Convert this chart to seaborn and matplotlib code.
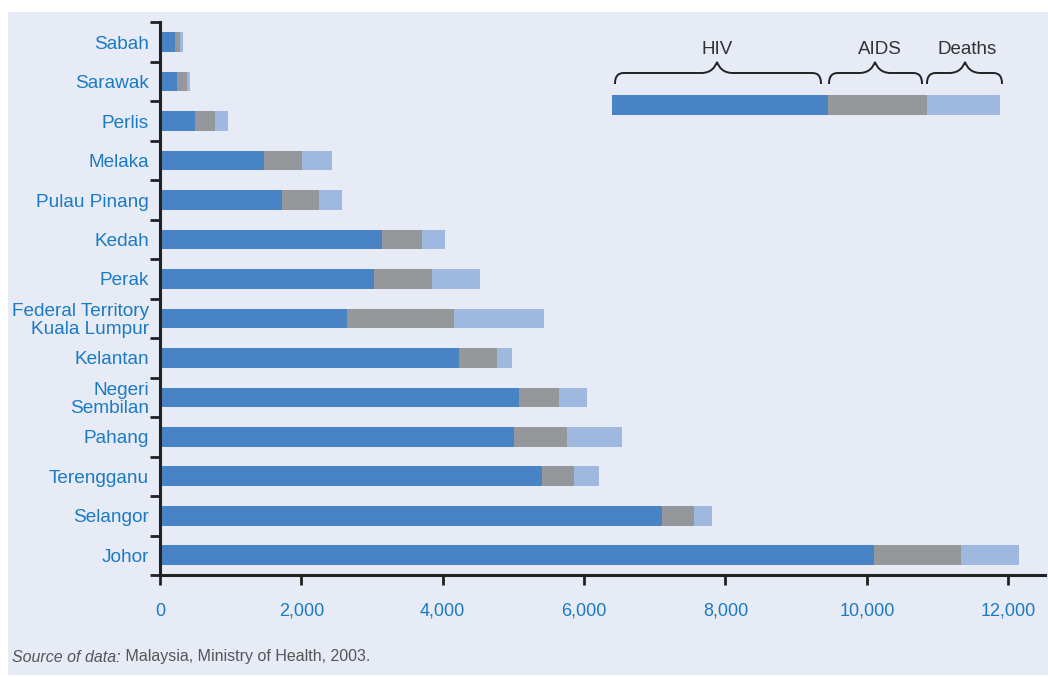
import matplotlib
matplotlib.use("Agg")
import matplotlib.pyplot as plt
import seaborn as sns
import pandas as pd
from matplotlib.path import Path
from matplotlib.patches import PathPatch, Rectangle

# Cumulative HIV infections, AIDS cases and AIDS deaths by state
states = ["Sabah", "Sarawak", "Perlis", "Melaka", "Pulau Pinang", "Kedah", "Perak",
          "Federal Territory\nKuala Lumpur", "Kelantan", "Negeri\nSembilan", "Pahang",
          "Terengganu", "Selangor", "Johor"]
hiv = [210, 240, 495, 1470, 1725, 3140, 3030, 2645, 4230, 5080, 5010, 5405, 7100, 10100]
aids = [70, 140, 285, 540, 525, 565, 820, 1515, 540, 565, 750, 450, 455, 1230]
deaths = [45, 45, 185, 425, 325, 325, 680, 1270, 215, 395, 780, 355, 250, 820]
x_ticks = [0, 2000, 4000, 6000, 8000, 10000, 12000]
series_names = ["HIV", "AIDS", "Deaths"]

C_HIV = "#4884c5"
C_AIDS = "#96979b"
C_DEATH = "#9fb8df"
BG = "#e7ebf6"
LABEL_BLUE = "#1a7bc4"
INK = "#222222"

sns.set_theme(style="white")
plt.rcParams["font.family"] = ["Liberation Sans", "DejaVu Sans"]

W, H = 1048, 677
fig = plt.figure(figsize=(W / 100, H / 100), dpi=100)
fig.patch.set_facecolor("white")


def fx(px):
    return px / W


def fy(py):
    return 1 - py / H


# panel background
fig.add_artist(Rectangle((fx(8), fy(675)), fx(1048) - fx(8), fy(12) - fy(675),
                         transform=fig.transFigure, facecolor=BG, edgecolor="none", zorder=0))

ax = fig.add_axes([fx(160), fy(575), fx(1045) - fx(160), fy(22) - fy(575)])
ax.set_facecolor("none")

df = pd.DataFrame({"state": states, "hiv": hiv, "aids": aids, "deaths": deaths})
df["hiv_aids"] = df["hiv"] + df["aids"]
df["total"] = df["hiv_aids"] + df["deaths"]

# stacked bars: draw cumulative totals back to front
for col, color in [("total", C_DEATH), ("hiv_aids", C_AIDS), ("hiv", C_HIV)]:
    sns.barplot(data=df, x=col, y="state", order=states, orient="h", color=color,
                width=0.5, saturation=1, linewidth=0, ax=ax)

ax.set_xlim(0, 12520)
ax.set_ylim(13.49, -0.51)
ax.set_xlabel("")
ax.set_ylabel("")

for side in ["top", "right"]:
    ax.spines[side].set_visible(False)
for side in ["left", "bottom"]:
    ax.spines[side].set_color(INK)
    ax.spines[side].set_linewidth(2.2)

ax.set_xticks(x_ticks)
ax.set_xticklabels([f"{v:,}" for v in x_ticks])
ax.tick_params(axis="x", direction="out", length=7, width=2, color=INK,
               labelcolor=LABEL_BLUE, labelsize=13, pad=13, bottom=True)

ax.set_yticks(range(len(states)))
ax.set_yticklabels(states, fontsize=13.7, color=LABEL_BLUE, linespacing=1.05)
ax.tick_params(axis="y", which="major", length=0, pad=8, left=True)
ax.set_yticks([i - 0.5 for i in range(len(states) + 1)], minor=True)
ax.tick_params(axis="y", which="minor", direction="out", length=7, width=2,
               color=INK, left=True)

# key bar at upper right
key_edges = [612, 828, 927, 1000]
for (a, b), color in zip(zip(key_edges[:-1], key_edges[1:]), [C_HIV, C_AIDS, C_DEATH]):
    fig.add_artist(Rectangle((fx(a), fy(115)), fx(b) - fx(a), fy(95) - fy(115),
                             transform=fig.transFigure, facecolor=color,
                             edgecolor="none", zorder=3))


def brace(xa, xb, xm, y_tip=84, y_flat=73, y_peak=62, r=9, r2=16):
    pts = [
        (xa, y_tip),
        (xa, y_flat + 3), (xa + r * 0.35, y_flat), (xa + r, y_flat),
        (xm - r2, y_flat),
        (xm - r2 * 0.35, y_flat), (xm - 2, y_peak + 5), (xm, y_peak),
        (xm + 2, y_peak + 5), (xm + r2 * 0.35, y_flat), (xm + r2, y_flat),
        (xb - r, y_flat),
        (xb - r * 0.35, y_flat), (xb, y_flat + 3), (xb, y_tip),
    ]
    codes = [Path.MOVETO,
             Path.CURVE4, Path.CURVE4, Path.CURVE4,
             Path.LINETO,
             Path.CURVE4, Path.CURVE4, Path.CURVE4,
             Path.CURVE4, Path.CURVE4, Path.CURVE4,
             Path.LINETO,
             Path.CURVE4, Path.CURVE4, Path.CURVE4]
    path = Path([(fx(x), fy(y)) for x, y in pts], codes)
    fig.add_artist(PathPatch(path, transform=fig.transFigure, facecolor="none",
                             edgecolor=INK, linewidth=1.4, zorder=3))


brace_spans = [(615, 821, 717), (829, 922, 875), (927, 1002, 965)]
label_x = [717, 880, 967]
for (xa, xb, xm), name, lx in zip(brace_spans, series_names, label_x):
    brace(xa, xb, xm)
    fig.text(fx(lx), fy(49), name, ha="center", va="center", fontsize=13.5, color="#333333")

# source line
t1 = fig.text(fx(12), fy(657), "Source of data:", ha="left", va="center",
              fontsize=11.5, style="italic", color="#555555")
ax.annotate(" Malaysia, Ministry of Health, 2003.", xy=(1, 0), xycoords=t1,
            ha="left", va="bottom", fontsize=11.5, color="#555555",
            annotation_clip=False)

fig.savefig("out.png", dpi=100, facecolor=fig.get_facecolor())
